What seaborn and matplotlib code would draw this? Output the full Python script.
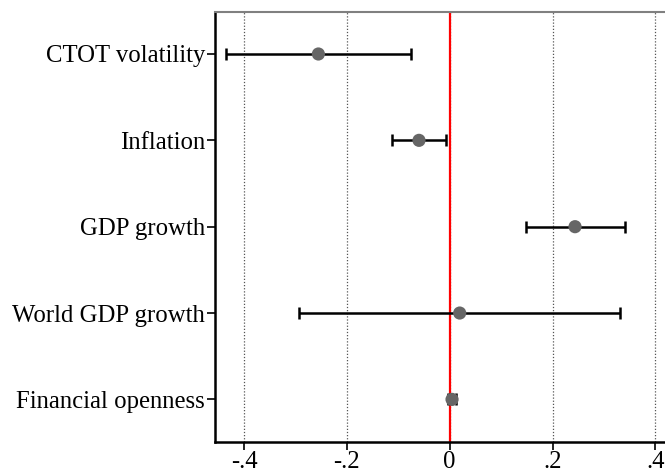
import matplotlib
matplotlib.use("Agg")
import matplotlib.pyplot as plt
import seaborn as sns
import pandas as pd
import numpy as np

# Data
variables = ["CTOT volatility", "Inflation", "GDP growth", "World GDP growth", "Financial openness"]
estimates = [-0.2553, -0.0597, 0.2436, 0.0194, 0.0045]
ci_low = [-0.435, -0.112, 0.148, -0.293, -0.0027]
ci_high = [-0.0746, -0.0072, 0.341, 0.3316, 0.0117]
xtick_values = [-0.4, -0.2, 0.0, 0.2, 0.4]
xtick_labels = ["-.4", "-.2", "0", ".2", ".4"]

sns.set_theme(style="white")
plt.rcParams["font.family"] = ["Liberation Serif", "DejaVu Serif"]
plt.rcParams["text.color"] = "black"
plt.rcParams["xtick.color"] = "black"
plt.rcParams["ytick.color"] = "black"

df = pd.DataFrame({"variable": variables, "estimate": estimates,
                   "lo": ci_low, "hi": ci_high})
df["pos"] = np.arange(len(df))

fig = plt.figure(figsize=(6.65, 4.71), dpi=100)
ax = fig.add_axes([0.3229, 0.0622, 1.0 - 0.3229, 0.913])

# grid lines
for xv in xtick_values:
    ax.axvline(xv, color="#555555", lw=0.9, ls=(0, (1, 1.5)), zorder=0)
ax.axvline(0, color="red", lw=1.6, zorder=1)

xerr = np.vstack([df["estimate"] - df["lo"], df["hi"] - df["estimate"]])
ax.errorbar(df["estimate"], df["pos"], xerr=xerr, fmt="none", ecolor="black",
            elinewidth=1.8, capsize=4.5, capthick=1.8, zorder=2)
sns.scatterplot(data=df, x="estimate", y="pos", ax=ax, color="#666666",
                s=90, edgecolor="none", zorder=3, legend=False)

ax.set_xlim(-0.4568, 0.4185)
ax.set_ylim(4.49, -0.49)
ax.set_yticks(df["pos"])
ax.set_yticklabels(variables, fontsize=17.8, color="black")
ax.set_xticks(xtick_values)
ax.set_xticklabels(xtick_labels, fontsize=17.8, color="black")
ax.set_xlabel("")
ax.set_ylabel("")

ax.tick_params(axis="both", which="both", length=6, width=1.2, color="black",
               labelcolor="black", direction="out", left=True, bottom=True, pad=1)
ax.tick_params(axis="x", pad=1)

for side in ["left", "bottom"]:
    ax.spines[side].set_color("black")
    ax.spines[side].set_linewidth(1.8)
ax.spines["top"].set_color("#808080")
ax.spines["top"].set_linewidth(1.5)
ax.spines["right"].set_visible(False)

fig.savefig("out.png", dpi=100)
